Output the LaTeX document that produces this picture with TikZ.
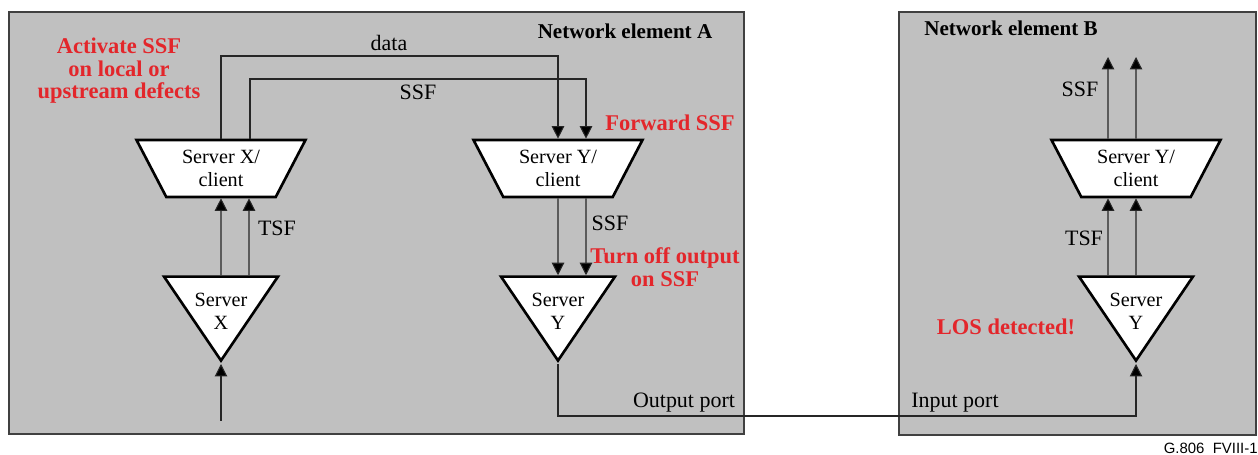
\documentclass[tikz,border=0pt]{standalone}
\usepackage{fontspec}
\setmainfont{Liberation Serif}
\newfontfamily\tagfont{Liberation Sans}
\usetikzlibrary{shapes.geometric,arrows.meta}
\definecolor{nefill}{HTML}{C0C0C0}
\definecolor{neframe}{HTML}{404040}
\definecolor{alertred}{HTML}{E3262B}
\tikzset{
  elembox/.style={rectangle, draw=neframe, line width=1.1pt, fill=nefill, inner sep=0pt},
  srvtrap/.style={trapezium, shape border rotate=180, trapezium left angle=53.3, trapezium right angle=53.3, trapezium stretches body=true, minimum width=3.38cm, minimum height=1.14cm, inner sep=1pt, draw=black, line width=1.5pt, fill=white, align=center, font=\fontsize{11.5}{13}\selectfont},
  srvtri/.style={isosceles triangle, shape border rotate=270, isosceles triangle stretches=true, minimum width=2.28cm, minimum height=1.68cm, inner sep=0pt, draw=black, line width=1.5pt, fill=white},
  srvtxt/.style={align=center, inner sep=0pt, font=\fontsize{11.5}{13}\selectfont},
  sig/.style={inner sep=0pt, font=\fontsize{12.5}{14}\selectfont},
  note/.style={align=center, inner sep=0pt, text=alertred, font=\fontsize{12.8}{12.8}\selectfont\bfseries},
  netitle/.style={inner sep=0pt, font=\fontsize{12}{14}\selectfont\bfseries},
  flow/.style={draw=black!85, line width=0.6pt, -{Triangle[length=2.5mm,width=2.5mm,fill=black]}},
}

\begin{document}
\begin{tikzpicture}[x=0.02cm, y=-0.02cm]
  \useasboundingbox (0,0) rectangle (1258,455);
  % the two network elements
  \node[elembox, minimum width=14.7cm, minimum height=8.44cm] (nea) at (376.5,223) {};
  \node[elembox, minimum width=7.14cm, minimum height=8.46cm] (neb) at (1077.5,223.5) {};
  \node[netitle] (tita) at (625,31) {Network element A};
  \node[netitle] (titb) at (1011,28) {Network element B};

  % adaptation and trail functions
  \node[srvtrap] (sxc) at (221,168.5) {Server X/\\client};
  \node[srvtrap] (syc) at (558,168.5) {Server Y/\\client};
  \node[srvtrap] (sbc) at (1136,168.5) {Server Y/\\client};
  \node[srvtri, anchor=apex] (sx) at (221,364) {};
  \node[srvtri, anchor=apex] (sy) at (558,364) {};
  \node[srvtri, anchor=apex] (sb) at (1136,364) {};
  \node[srvtxt] (sxt) at (221,311) {Server\\X};
  \node[srvtxt] (syt) at (558,311) {Server\\Y};
  \node[srvtxt] (sbt) at (1136,311) {Server\\Y};

  % signals
  \coordinate (dataknee) at (390,56);
  \coordinate (ssfknee) at (420,79);
  \coordinate (xin) at (221,421);
  \coordinate (port) at (850,416);
  \coordinate (bout) at (1136,57);
  \draw[flow] (sxc.north) |- (dataknee) -| (syc.north);
  \draw[flow] ([xshift=0.58cm]sxc.north) |- (ssfknee) -| ([xshift=0.56cm]syc.north);
  \draw[flow] (xin) -- (sx.apex);
  \draw[flow] (sx.north) -- (sxc.south);
  \draw[flow] ([xshift=0.56cm]sx.north) -- ([xshift=0.56cm]sxc.south);
  \draw[flow] (syc.south) -- (sy.north);
  \draw[flow] ([xshift=0.56cm]syc.south) -- ([xshift=0.56cm]sy.north);
  \draw[flow] (sy.apex) |- (port) -| (sb.apex);
  \draw[flow] (sb.north) -- (sbc.south);
  \draw[flow] ([xshift=-0.56cm]sb.north) -- ([xshift=-0.56cm]sbc.south);
  \draw[flow] (sbc.north) -- (bout);
  \draw[flow] ([xshift=-0.56cm]sbc.north) -- ([xshift=-0.56cm]bout);

  \node[sig] (ldata) at (389,43) {data};
  \node[sig] (lssfa) at (418,92) {SSF};
  \node[sig] (ltsfx) at (277,228) {TSF};
  \node[sig] (lssfy) at (610,223) {SSF};
  \node[sig] (lout) at (684,403) {Output port};
  \node[sig] (lin) at (955,403) {Input port};
  \node[sig] (lssfb) at (1080,89) {SSF};
  \node[sig] (ltsfb) at (1084,238) {TSF};

  % red remarks
  \node[note] (nact) at (119,71) {Activate SSF\\on local or\\upstream defects};
  \node[note] (nfwd) at (670,123) {Forward SSF};
  \node[note] (noff) at (665,267) {Turn off output\\on SSF};
  \node[note] (nlos) at (1006,327) {LOS detected!};

  \node[anchor=east, inner sep=0pt, font=\tagfont\fontsize{8.5}{10}\selectfont] (figtag) at (1258,448) {G.806\ \ FVIII-1};
\end{tikzpicture}
\end{document}
